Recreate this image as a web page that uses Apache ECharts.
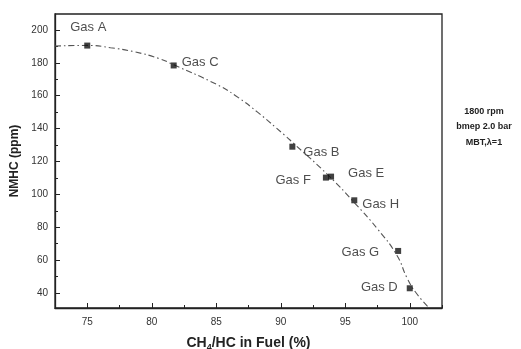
<!DOCTYPE html>
<html>
<head>
<meta charset="utf-8">
<script src="https://cdn.jsdelivr.net/npm/echarts@6/dist/echarts.min.js"></script>
<style>
html,body{margin:0;padding:0;background:#fff;}
#chart{width:521px;height:349px;}
</style>
</head>
<body>
<div id="chart"></div>
<script>
// ---- data ----
var gasNames = ['Gas A', 'Gas C', 'Gas B', 'Gas F', 'Gas E', 'Gas H', 'Gas G', 'Gas D'];
var gasCH4 = [75.0, 81.7, 90.9, 93.5, 93.9, 95.7, 99.1, 100.0];
var gasNMHC = [190.5, 178.4, 129.0, 110.2, 110.8, 96.4, 65.6, 42.9];

var fitCH4 = [72.5, 75, 76.8, 78.6, 80.5, 81.7, 85, 86.5, 88.2, 90.3, 91, 93.7, 95.7, 97.5, 99, 99.8, 100.5, 101.5];
var fitNMHC = [190.2, 190.6, 189.2, 186.8, 182.8, 178.8, 167, 160, 150, 136, 131, 111.5, 95, 79, 63, 49, 40, 31];

var xMajorTicks = [75, 80, 85, 90, 95, 100];
var xMinorTicks = [77.5, 82.5, 87.5, 92.5, 97.5, 102.5];
var yMajorTicks = [40, 60, 80, 100, 120, 140, 160, 180, 200];
var yMinorTicks = [50, 70, 90, 110, 130, 150, 170, 190];

var noteLines = ['1800 rpm', 'bmep 2.0 bar', 'MBT,\u03bb=1'];

// ---- label placement (style only) ----
var labelPlace = {
  'Gas A': {position: 'top', offset: [1, -4]},
  'Gas C': {position: 'right', offset: [0, -3]},
  'Gas B': {position: 'right', offset: [3, 6]},
  'Gas F': {position: 'left', offset: [-7, 3]},
  'Gas E': {position: 'right', offset: [9, -3]},
  'Gas H': {position: 'right', offset: [0, 4]},
  'Gas G': {position: 'left', offset: [-11, 1]},
  'Gas D': {position: 'left', offset: [-4, -1]}
};

var FONT = '"Liberation Sans", Arial, sans-serif';

var scatterData = gasNames.map(function (n, i) {
  var p = labelPlace[n];
  return {
    name: n,
    value: [gasCH4[i], gasNMHC[i]],
    label: {show: true, formatter: n, position: p.position, offset: p.offset, distance: 5}
  };
});
var fitData = fitCH4.map(function (x, i) { return [x, fitNMHC[i]]; });

var chart = echarts.init(document.getElementById('chart'), null, {renderer: 'canvas'});
var axisColor = '#222';
var option = {
  animation: false,
  backgroundColor: '#fff',
  grid: {left: 55, right: 79, top: 14, bottom: 41, containLabel: false, outerBoundsMode: 'none',
    show: true, borderColor: axisColor, borderWidth: 1.3, backgroundColor: 'transparent'},
  xAxis: [{
    type: 'value', min: 72.5, max: 102.5,
    name: 'CH{s|4}/HC in Fuel (%)', nameLocation: 'middle', nameGap: 26,
    nameTextStyle: {fontFamily: FONT, fontSize: 14, fontWeight: 'bold', color: '#222',
      rich: {s: {fontFamily: FONT, fontSize: 9, fontWeight: 'bold', color: '#222', verticalAlign: 'bottom', padding: [9, 0, 0, 0]}}},
    axisLine: {show: true, lineStyle: {color: axisColor, width: 1.3}},
    axisTick: {show: true, inside: true, length: 5, customValues: xMajorTicks, lineStyle: {color: axisColor}},
    axisLabel: {show: true, customValues: xMajorTicks, margin: 9, fontFamily: FONT, fontSize: 10, color: '#333'},
    splitLine: {show: false}
  }, {
    type: 'value', min: 72.5, max: 102.5, position: 'bottom',
    axisLine: {show: false},
    axisTick: {show: true, inside: true, length: 3, customValues: xMinorTicks, lineStyle: {color: axisColor}},
    axisLabel: {show: false},
    splitLine: {show: false}
  }],
  yAxis: [{
    type: 'value', min: 30.9, max: 209.7,
    name: 'NMHC (ppm)', nameLocation: 'middle', nameGap: 34, nameRotate: 90,
    nameTextStyle: {fontFamily: FONT, fontSize: 12, fontWeight: 'bold', color: '#222'},
    axisLine: {show: true, lineStyle: {color: axisColor, width: 1.3}},
    axisTick: {show: true, inside: true, length: 5, customValues: yMajorTicks, lineStyle: {color: axisColor}},
    axisLabel: {show: true, customValues: yMajorTicks, margin: 7, fontFamily: FONT, fontSize: 10, color: '#333'},
    splitLine: {show: false}
  }, {
    type: 'value', min: 30.9, max: 209.7, position: 'left',
    axisLine: {show: false},
    axisTick: {show: true, inside: true, length: 3, customValues: yMinorTicks, lineStyle: {color: axisColor}},
    axisLabel: {show: false},
    splitLine: {show: false}
  }],
  series: [{
    type: 'line',
    data: fitData,
    smooth: 0.5,
    symbol: 'none',
    lineStyle: {color: '#555', width: 1.1, type: [6, 3, 1.5, 3]},
    z: 2
  }, {
    type: 'scatter',
    data: scatterData,
    symbol: 'rect',
    symbolSize: 6,
    itemStyle: {color: '#111'},
    label: {fontFamily: FONT, fontSize: 13, color: '#222'},
    z: 3
  }],
  graphic: noteLines.map(function (t, i) {
    return {
      type: 'text', x: 484, y: 107 + i * 15.5,
      style: {text: t, textAlign: 'center', font: 'bold 9px ' + FONT, fill: '#222'}
    };
  })
};
chart.setOption(option);
</script>
</body>
</html>
